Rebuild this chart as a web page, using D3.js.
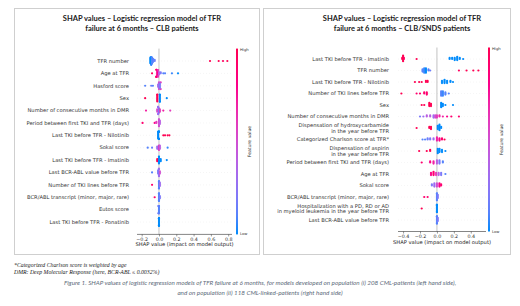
<!DOCTYPE html>
<html>
<head>
<meta charset="utf-8">
<script src="https://cdn.jsdelivr.net/npm/d3@7"></script>
<style>
	body { margin: 0; background: #fff; }
	svg { display: block; }
</style>
</head>
<body>
<div id="graphic"></div>
<script>

// ---- data: left panel (CLB patients) ----
// each point group is [shap value, feature value 0..1, count]
const clbFeatures = [
	"TFR number", "Age at TFR", "Hasford score", "Sex",
	"Number of consecutive months in DMR", "Period between first TKI and TFR (days)",
	"Last TKI before TFR - Nilotinib", "Sokal score", "Last TKI before TFR - Imatinib",
	"Last BCR-ABL value before TFR", "Number of TKI lines before TFR",
	"BCR/ABL transcript (minor, major, rare)", "Eutos score", "Last TKI before TFR - Ponatinib"
];
const clbPoints = [
	[[-0.10, 0.0, 6], [-0.09, 0.05, 8], [-0.08, 0.1, 6], [-0.07, 0.1, 4], [-0.05, 0.15, 2], [0.59, 1, 1], [0.69, 1, 1], [0.74, 0.95, 1], [0.79, 1, 1]],
	[[-0.08, 0.95, 1], [-0.03, 0.9, 5], [-0.02, 0.8, 6], [-0.01, 0.6, 4], [0.0, 0.4, 3], [0.02, 0.2, 2], [0.05, 0.1, 1], [0.07, 0.1, 1], [0.15, 0.05, 1], [0.22, 0.0, 1]],
	[[-0.16, 0.1, 1], [-0.09, 0.15, 1], [-0.07, 0.1, 1], [-0.01, 0.3, 3], [0.0, 0.5, 4], [0.01, 0.2, 5], [0.02, 0.6, 2]],
	[[-0.16, 1, 1], [-0.02, 1, 8], [0.01, 0, 9], [0.09, 0, 1]],
	[[-0.15, 0.7, 1], [-0.02, 0.5, 3], [-0.01, 0.3, 5], [0.0, 0.2, 5], [0.01, 0.6, 3], [0.05, 0.7, 1], [0.13, 0.6, 1]],
	[[-0.19, 0.9, 1], [-0.05, 0.8, 1], [-0.03, 0.6, 2], [0.0, 0.5, 8], [0.01, 0.4, 4]],
	[[-0.01, 0, 8], [0.0, 0, 6], [0.05, 1, 1], [0.07, 1, 1], [0.10, 1, 1], [0.12, 1, 1]],
	[[-0.13, 0.1, 1], [-0.08, 0.15, 1], [-0.02, 0.3, 3], [0.0, 0.6, 5], [0.01, 0.4, 4], [0.10, 0.05, 1]],
	[[-0.02, 1, 3], [0.0, 0, 8], [0.02, 0, 3], [0.09, 0, 1]],
	[[-0.08, 0.1, 1], [-0.01, 0.2, 4], [0.0, 0.3, 8], [0.01, 0.5, 3]],
	[[-0.08, 0.9, 1], [0.0, 0.1, 10], [0.01, 0.3, 4]],
	[[-0.05, 0.9, 1], [0.0, 0.1, 12], [0.01, 0.2, 3]],
	[[0.0, 0.1, 14], [-0.005, 0.2, 4]],
	[[0.0, 0, 16]]
];
const clbTicks = [-0.2, 0, 0.2, 0.4, 0.6, 0.8];

// ---- data: right panel (CLB/SNDS patients) ----
const sndsFeatures = [
	"Last TKI before TFR - Imatinib", "TFR number", "Last TKI before TFR - Nilotinib",
	"Number of TKI lines before TFR", "Sex", "Number of consecutive months in DMR",
	"Dispensation of hydroxycarbamide\nin the year before TFR", "Categorized Charlson score at TFR*",
	"Dispensation of aspirin\nin the year before TFR", "Period between first TKI and TFR (days)",
	"Age at TFR", "Sokal score", "BCR/ABL transcript (minor, major, rare)",
	"Hospitalization with a PD, RD or AD\nin myeloid leukemia in the year before TFR",
	"Last BCR-ABL value before TFR"
];
const sndsPoints = [
	[[-0.41, 1, 2], [-0.40, 1, 4], [-0.39, 0.95, 2], [-0.24, 1, 1], [0.15, 0, 2], [0.18, 0, 2], [0.21, 0, 3], [0.24, 0, 4], [0.27, 0, 2], [0.31, 0, 1]],
	[[-0.17, 0.1, 3], [-0.15, 0.05, 5], [-0.13, 0.0, 5], [-0.10, 0.1, 2], [-0.08, 0.15, 1], [0.26, 0.95, 1], [0.35, 1, 1], [0.43, 1, 1], [0.49, 1, 1]],
	[[-0.26, 1, 1], [-0.21, 1, 1], [-0.18, 1, 1], [-0.13, 1, 2], [-0.11, 1, 2], [0.06, 0, 3], [0.09, 0, 4], [0.12, 0, 3], [0.16, 0, 2], [0.19, 0, 1]],
	[[-0.42, 1, 1], [-0.24, 0.9, 1], [-0.20, 0.9, 1], [-0.15, 0.9, 2], [-0.12, 0.9, 3], [0.05, 0.1, 5], [0.07, 0.05, 5], [0.10, 0.1, 3], [0.14, 0.1, 1]],
	[[-0.18, 1, 1], [-0.15, 1, 1], [-0.09, 1, 4], [-0.07, 1, 3], [0.05, 0, 5], [0.07, 0, 3], [0.10, 0, 1], [0.19, 0, 1]],
	[[-0.20, 0.2, 1], [-0.16, 0.3, 1], [-0.12, 0.4, 2], [-0.08, 0.4, 2], [-0.04, 0.3, 3], [-0.02, 0.5, 3], [0.0, 0.6, 3], [0.03, 0.7, 2], [0.07, 0.7, 1], [0.12, 0.8, 1], [0.17, 0.9, 1], [0.26, 0.9, 1]],
	[[-0.24, 1, 1], [-0.09, 1, 2], [-0.07, 1, 3], [0.01, 0, 4], [0.03, 0, 6], [0.05, 0, 2]],
	[[-0.17, 0.1, 1], [-0.14, 0.1, 1], [-0.11, 0.15, 2], [-0.08, 0.2, 2], [-0.04, 0.3, 2], [0.0, 0.7, 4], [0.03, 0.8, 3], [0.06, 0.9, 2], [0.09, 1, 1]],
	[[-0.21, 1, 1], [-0.12, 1, 1], [-0.08, 1, 2], [0.01, 0, 5], [0.03, 0, 4], [0.06, 0, 3], [0.10, 0, 1]],
	[[-0.18, 0.9, 1], [-0.08, 0.8, 2], [-0.04, 0.7, 3], [0.0, 0.4, 4], [0.03, 0.2, 4], [0.07, 0.1, 2]],
	[[-0.07, 0.8, 3], [-0.04, 0.9, 4], [-0.01, 0.6, 3], [0.02, 0.4, 3], [0.05, 0.2, 3], [0.10, 0.1, 1]],
	[[-0.06, 0.2, 2], [-0.03, 0.3, 4], [0.0, 0.5, 4], [0.03, 0.8, 4], [0.05, 0.9, 2]],
	[[-0.15, 0.9, 1], [-0.11, 0.9, 1], [0.0, 0.1, 8], [0.01, 0.2, 4]],
	[[-0.18, 1, 1], [0.0, 0, 12]],
	[[0.0, 0.1, 10], [0.01, 0.2, 4]]
];
const sndsTicks = [-0.4, -0.2, 0, 0.2, 0.4];

const footnotes = [
	"*Categorized Charlson score is weighted by age",
	"DMR: Deep Molecular Response (here, BCR-ABL \u2264 0.0032%)"
];
const captionLines = [
	"Figure 1. SHAP values of logistic regression models of TFR failure at 6 months, for models developed on population (i) 208 CML-patients (left hand side),",
	"and on population (ii) 118 CML-linked-patients (right hand side)"
];

const width = 520, height = 306;
const colour = d3.interpolateHcl("#008bfb", "#ff0052");

let svg = d3.select('#graphic').append('svg')
	.attr('width', width)
	.attr('height', height);

// gradient for colour bars
let grad = svg.append('defs').append('linearGradient')
	.attr('id', 'cbar')
	.attr('x1', 0).attr('y1', 1).attr('x2', 0).attr('y2', 0);
d3.range(0, 1.01, 0.1).forEach(t => {
	grad.append('stop').attr('offset', t).attr('stop-color', colour(t));
});

// spread points of one row into a small swarm
function swarm(points, x, rowY, maxSpread) {
	let expanded = [];
	points.forEach(([s, v, n]) => {
		for (let i = 0; i < n; i++) expanded.push({ shap: s, value: v });
	});
	let out = [];
	let bins = d3.group(expanded, d => Math.round(x(d.shap) / 1.6));
	bins.forEach(arr => {
		arr.sort((a, b) => a.value - b.value);
		arr.forEach((d, k) => {
			let layer = Math.ceil(k / 2) * (k % 2 ? -1 : 1);
			let dy = Math.max(-maxSpread, Math.min(maxSpread, layer * 1.1));
			out.push({ ...d, cx: x(d.shap), cy: rowY + dy });
		});
	});
	return out.sort((a, b) => Math.abs(b.cy - rowY) - Math.abs(a.cy - rowY));
}

function drawPanel(p) {
	let g = svg.append('g');

	// panel frame
	g.append('rect')
		.attr('x', p.box[0] + 0.5).attr('y', p.box[1] + 0.5)
		.attr('width', p.box[2]).attr('height', p.box[3])
		.attr('fill', 'none').attr('stroke', '#cfcfcf');

	// title
	g.append('text')
		.attr('x', p.titleX).attr('y', 21)
		.attr('text-anchor', 'middle')
		.style('font', 'bold 7.5px Lato, "Open Sans", sans-serif')
		.attr('fill', '#1a1a1a')
		.selectAll('tspan')
		.data(p.title)
		.join('tspan')
		.attr('x', p.titleX)
		.attr('dy', (d, i) => i ? 9.5 : 0)
		.text(d => d);

	const x = d3.scaleLinear().domain(p.xDomain).range(p.xRange);
	const y = d3.scalePoint()
		.domain(d3.range(p.features.length))
		.range([p.yTop, p.yBottom])
		.padding(1);

	// faint row guides
	g.append('g')
		.selectAll('line')
		.data(d3.range(p.features.length))
		.join('line')
		.attr('x1', p.xRange[0]).attr('x2', p.xRange[1])
		.attr('y1', d => y(d)).attr('y2', d => y(d))
		.attr('stroke', '#d8d8d8').attr('stroke-width', 0.5)
		.attr('stroke-dasharray', '0.5 2.5');

	// zero line
	g.append('line')
		.attr('x1', x(0)).attr('x2', x(0))
		.attr('y1', p.yTop).attr('y2', p.yBottom)
		.attr('stroke', '#999').attr('stroke-width', 0.6);

	// feature labels
	let labels = g.append('g')
		.selectAll('text')
		.data(p.features)
		.join('text')
		.attr('text-anchor', 'end')
		.attr('fill', '#333')
		.style('font', '5.2px "DejaVu Sans", sans-serif');
	labels.each(function (d, i) {
		let lines = d.split('\n');
		let t = d3.select(this);
		lines.forEach((l, j) => {
			t.append('tspan')
				.attr('x', p.labelX)
				.attr('y', y(i) + 1.8 + (j - (lines.length - 1) / 2) * 5.4)
				.text(l);
		});
	});

	// dots
	let dots = [];
	p.points.forEach((row, i) => {
		dots = dots.concat(swarm(row, x, y(i), 3.6));
	});
	g.append('g')
		.selectAll('circle')
		.data(dots)
		.join('circle')
		.attr('cx', d => d.cx)
		.attr('cy', d => d.cy)
		.attr('r', 1.1)
		.attr('fill', d => colour(d.value));

	// x axis
	let axis = g.append('g')
		.attr('transform', `translate(0,${p.yBottom})`)
		.call(d3.axisBottom(x)
			.tickValues(p.ticks)
			.tickSize(2)
			.tickPadding(1)
			.tickFormat(d => d3.format('.1f')(d).replace('-', '\u2212')));
	axis.select('.domain').attr('stroke', '#333').attr('stroke-width', 0.6)
		.attr('d', `M${p.xRange[0]},0H${p.xRange[1]}`);
	axis.selectAll('.tick line').attr('stroke', '#333').attr('stroke-width', 0.5);
	axis.selectAll('.tick text')
		.attr('fill', '#333')
		.style('font', '4.8px "DejaVu Sans", sans-serif');

	g.append('text')
		.attr('x', (p.xRange[0] + p.xRange[1]) / 2)
		.attr('y', p.yBottom + 12)
		.attr('text-anchor', 'middle')
		.attr('fill', '#222')
		.style('font', '5.2px "DejaVu Sans", sans-serif')
		.text('SHAP value (impact on model output)');

	// colour bar
	g.append('rect')
		.attr('x', p.cbarX).attr('y', p.yTop)
		.attr('width', 2).attr('height', p.yBottom - p.yTop)
		.attr('fill', 'url(#cbar)');
	g.append('text')
		.attr('x', p.cbarX + 4).attr('y', p.yTop + 2)
		.attr('fill', '#333')
		.style('font', '3.8px "DejaVu Sans", sans-serif')
		.text('High');
	g.append('text')
		.attr('x', p.cbarX + 4).attr('y', p.yBottom + 1)
		.attr('fill', '#333')
		.style('font', '3.8px "DejaVu Sans", sans-serif')
		.text('Low');
	g.append('text')
		.attr('transform', `translate(${p.cbarX + 15},${(p.yTop + p.yBottom) / 2}) rotate(-90)`)
		.attr('text-anchor', 'middle')
		.attr('fill', '#333')
		.style('font', '4.6px "DejaVu Sans", sans-serif')
		.text('Feature value');
}

drawPanel({
	box: [14, 8, 245, 246],
	title: ["SHAP values \u2013 Logistic regression model of TFR", "failure at 6 months \u2013 CLB patients"],
	titleX: 142,
	features: clbFeatures,
	points: clbPoints,
	ticks: clbTicks,
	xDomain: [-0.254, 0.844],
	xRange: [137, 232],
	yTop: 48.6,
	yBottom: 234.4,
	labelX: 129,
	cbarX: 236
});

drawPanel({
	box: [263, 8, 247, 246],
	title: ["SHAP values \u2013 Logistic regression model of TFR", "failure at 6 months \u2013 CLB/SNDS patients"],
	titleX: 402,
	features: sndsFeatures,
	points: sndsPoints,
	ticks: sndsTicks,
	xDomain: [-0.46, 0.58],
	xRange: [398, 486],
	yTop: 47.5,
	yBottom: 231.5,
	labelX: 389,
	cbarX: 488
});

// footnotes
svg.append('g')
	.selectAll('text')
	.data(footnotes)
	.join('text')
	.attr('x', 14)
	.attr('y', (d, i) => 267 + i * 7)
	.attr('fill', '#222')
	.style('font', 'italic 5.8px "Liberation Serif", serif')
	.text(d => d);

// figure caption
svg.append('g')
	.selectAll('text')
	.data(captionLines)
	.join('text')
	.attr('x', width / 2)
	.attr('y', (d, i) => 285 + i * 9.5)
	.attr('text-anchor', 'middle')
	.attr('fill', '#5d6b7a')
	.style('font', 'italic 6.3px Lato, "Open Sans", sans-serif')
	.text(d => d);

</script>
</body>
</html>
